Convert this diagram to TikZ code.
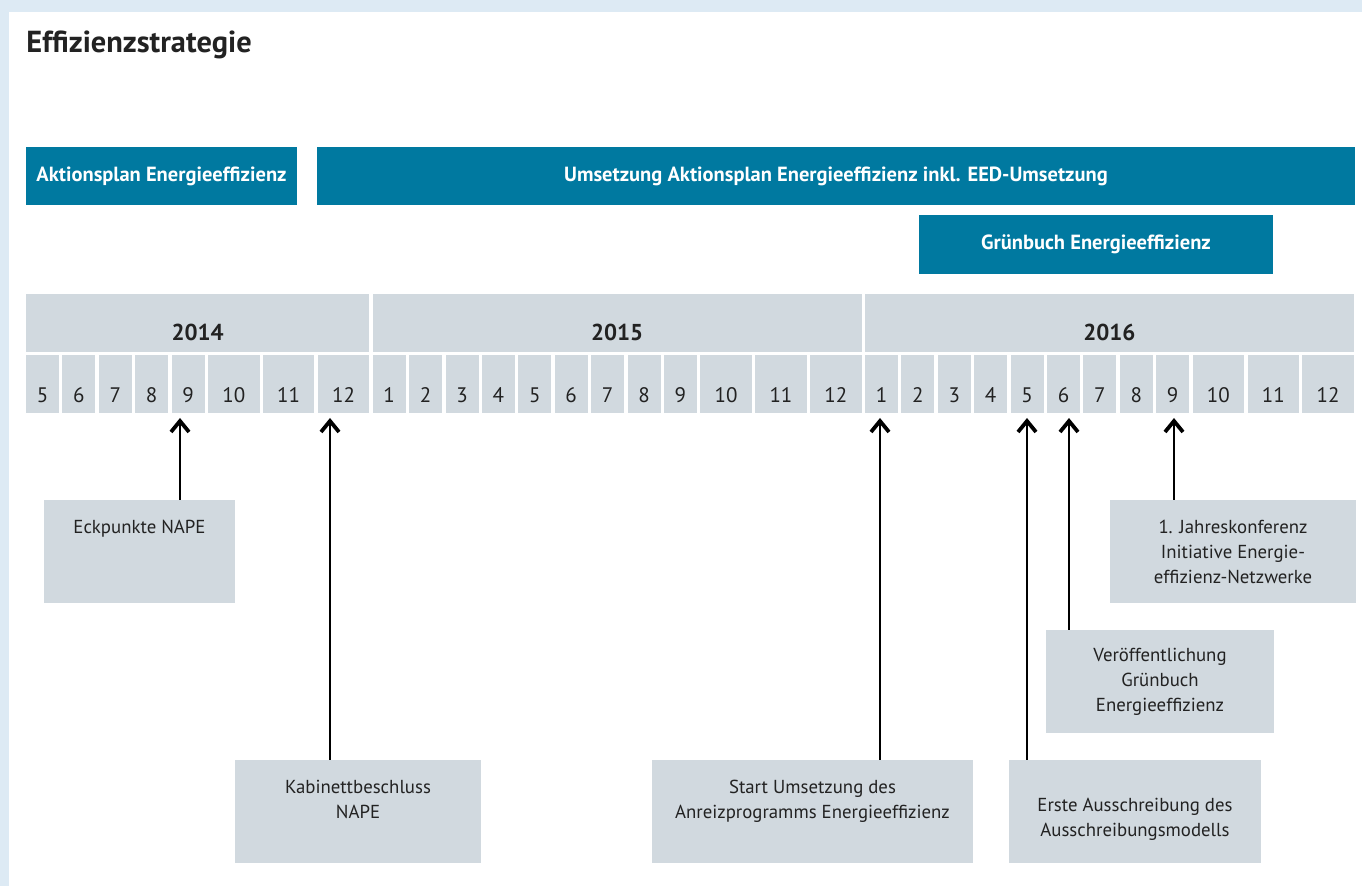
\documentclass[tikz,border=0pt]{standalone}
\usepackage{fontspec}
\setmainfont{PT Sans}
\usetikzlibrary{positioning}
\usetikzlibrary{arrows.meta}
\definecolor{bmblue}{HTML}{0079A0}
\definecolor{cellgray}{HTML}{D1D9DF}
\definecolor{framebg}{HTML}{DDEAF4}
\definecolor{inkgray}{HTML}{222222}
% one pixel of the layout grid
\newcommand{\px}{0.5pt}
\newcommand{\narrowcell}{33*\px}
\newcommand{\widecell}{51.5*\px}
\newcommand{\cellgap}{1.7pt}
\newcommand{\rowheight}{58*\px}
\newcommand{\boxheight}{103*\px}
\newcommand{\tipy}{418}

\tikzset{
  mcell/.code={\ifnum#1>9\relax\tikzset{minimum width=\widecell}\else\tikzset{minimum width=\narrowcell}\fi},
  monthcell/.style={fill=cellgray, inner sep=0pt, outer sep=0pt, minimum height=\rowheight,
    text height=19pt, text depth=0pt, font=\fontsize{10.5}{12}\selectfont},
  yearcell/.style={fill=cellgray, inner sep=0pt, outer sep=0pt, minimum height=\rowheight,
    text height=18pt, text depth=0pt, font=\fontsize{11.5}{14}\selectfont\bfseries},
  phasebar/.style={fill=bmblue, text=white, inner sep=0pt, outer sep=0pt, minimum height=\rowheight,
    font=\fontsize{10.25}{12}\selectfont\bfseries},
  eventbox/.style={fill=cellgray, inner sep=0pt, outer sep=0pt, minimum height=\boxheight,
    align=center, font=\fontsize{9.4}{12.5}\selectfont},
  evarrow/.style={-{Straight Barb[length=5.5pt,width=9pt,line width=1.9pt]}, line width=1.25pt},
}

\begin{document}
\begin{tikzpicture}[x=\px, y=-\px, text=inkgray]
    \useasboundingbox (0,0) rectangle (1362,886);
    % frame
    \fill[framebg] (0,0) rectangle (1362,886);
    \fill[white] (9,12) rectangle (1362,886);
    \node[anchor=base west, inner sep=0pt, font=\fontsize{15.2}{18}\selectfont\bfseries]
      (title) at (26,53) {Effizienzstrategie};
    % phases
    \node[phasebar, minimum width=271*\px] (aktion) at (161.5,176) {Aktionsplan Energieeffizienz};
    \node[phasebar, minimum width=1038*\px] (umsetz) at (836,176)
      {Umsetzung Aktionsplan Energieeffizienz inkl. EED-Umsetzung};
    \node[phasebar, minimum width=354*\px, minimum height=59*\px] (gruen) at (1096,244.5)
      {Grünbuch Energieeffizienz};
    % years
    \node[yearcell, minimum width=343.3*\px] (y2014) at (197.65,323) {2014};
    \node[yearcell, minimum width=488.9*\px] (y2015) at (617.15,323) {2015};
    \node[yearcell, minimum width=488.9*\px] (y2016) at (1109.45,323) {2016};
    % months
    \node[monthcell, mcell=5, anchor=north west] (c1) at (26,355) {5};
    \foreach \m [count=\i from 2, evaluate=\i as \j using int(\i-1)] in
      {6,7,8,9,10,11,12,1,2,3,4,5,6,7,8,9,10,11,12,1,2,3,4,5,6,7,8,9,10,11,12}
      \node[monthcell, mcell=\m, right=\cellgap of c\j] (c\i) {\m};
    % events
    \node[eventbox, minimum width=191*\px] (eckpunkte) at (139.5,551.5)
      {Eckpunkte NAPE\\ \mbox{}\\ \mbox{}};
    \node[eventbox, minimum width=246*\px] (kabinett) at (358,811.5)
      {Kabinettbeschluss\\NAPE\\ \mbox{}};
    \node[eventbox, minimum width=321*\px] (anreiz) at (812.5,811.5)
      {Start Umsetzung des\\Anreizprogramms Energieeffizienz\\ \mbox{}};
    \node[eventbox, minimum width=252*\px] (ausschr) at (1135,811.5)
      {\mbox{}\\[1.5pt]Erste Ausschreibung des\\Ausschreibungsmodells};
    \node[eventbox, minimum width=228*\px] (veroeff) at (1160,681.5)
      {Veröffentlichung\\Grünbuch\\Energieeffizienz};
    \node[eventbox, minimum width=246*\px] (jahres) at (1233,551.5)
      {1. Jahreskonferenz\\Initiative Energie-\\effizienz-Netzwerke};
    % arrows up to the months
    \coordinate (t1) at (180,\tipy);
    \coordinate (t2) at (330,\tipy);
    \coordinate (t3) at (880,\tipy);
    \coordinate (t4) at (1027,\tipy);
    \coordinate (t5) at (1069,\tipy);
    \coordinate (t6) at (1174,\tipy);
    \draw[evarrow] (eckpunkte.north -| t1) -- (t1);
    \draw[evarrow] (kabinett.north -| t2) -- (t2);
    \draw[evarrow] (anreiz.north -| t3) -- (t3);
    \draw[evarrow] (ausschr.north -| t4) -- (t4);
    \draw[evarrow] (veroeff.north -| t5) -- (t5);
    \draw[evarrow] (jahres.north -| t6) -- (t6);
\end{tikzpicture}
\end{document}
